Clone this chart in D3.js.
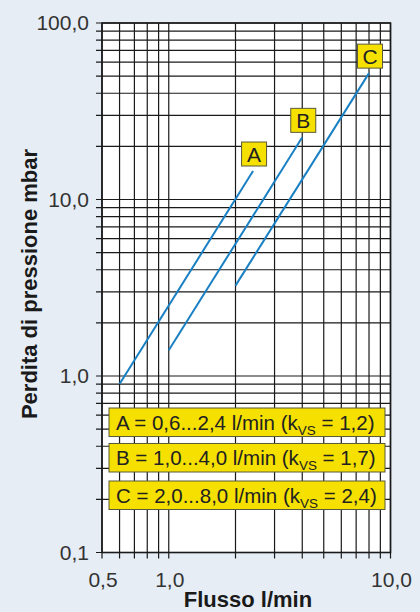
<!DOCTYPE html>
<html>
<head>
<meta charset="utf-8">
<script src="https://cdn.jsdelivr.net/npm/d3@7"></script>
<style>
  html, body { margin: 0; padding: 0; background: #e6edf5; }
  svg { display: block; font-family: "Liberation Sans", Arial, sans-serif; }
</style>
</head>
<body>
<svg width="420" height="612"></svg>
<script>
// curve data
const curveNames = ["A", "B", "C"];
const flowStart = [0.6, 1.0, 2.0];
const flowEnd = [2.4, 4.0, 8.0];
const dropStart = [0.9, 1.4, 3.25];
const dropEnd = [14.5, 22.5, 52];
const legendLabels = ["A = 0,6...2,4 l/min (k", "B = 1,0...4,0 l/min (k", "C = 2,0...8,0 l/min (k"];
const kvsValues = ["1,2", "1,7", "2,4"];

const xTickValues = [0.5, 1, 10];
const xTickLabels = ["0,5", "1,0", "10,0"];
const yTickValues = [0.1, 1, 10, 100];
const yTickLabels = ["0,1", "1,0", "10,0", "100,0"];

let svg = d3.select("svg"),
    margin = {top: 23, right: 30, bottom: 60, left: 102},
    width = +svg.attr("width") - margin.left - margin.right,
    height = +svg.attr("height") - margin.top - margin.bottom;

let x = d3.scaleLog().domain([0.5, 10]).range([0, width + 0.5]),
    y = d3.scaleLog().domain([0.1, 100]).range([height + 0.5, 0]);

let g = svg.append("g")
    .attr("transform", "translate(" + margin.left + "," + margin.top + ")");

// plot background
g.append("rect")
    .attr("width", x(10)).attr("height", y(0.1))
    .attr("fill", "#fff");

// grid values: 1..9 per decade
let xGrid = [0.5, 0.6, 0.7, 0.8, 0.9].concat(d3.range(1, 11));
let yGrid = [];
[0.1, 1, 10].forEach(function(d) { d3.range(1, 10).forEach(function(k) { yGrid.push(+(d * k).toPrecision(3)); }); });
yGrid.push(100);

g.selectAll(".vgrid")
  .data(xGrid)
  .enter().append("line")
    .attr("class", "vgrid")
    .attr("x1", function(d) { return x(d); })
    .attr("x2", function(d) { return x(d); })
    .attr("y1", 0)
    .attr("y2", y(0.1) + 6)
    .attr("stroke", "#1a1a1a")
    .attr("stroke-width", 1.2);

g.selectAll(".hgrid")
  .data(yGrid)
  .enter().append("line")
    .attr("class", "hgrid")
    .attr("x1", -6)
    .attr("x2", x(10))
    .attr("y1", function(d) { return y(d); })
    .attr("y2", function(d) { return y(d); })
    .attr("stroke", "#1a1a1a")
    .attr("stroke-width", 1.2);

// frame
g.append("rect")
    .attr("width", x(10)).attr("height", y(0.1))
    .attr("fill", "none")
    .attr("stroke", "#1a1a1a")
    .attr("stroke-width", 1.6);

// tick labels
g.selectAll(".xlab")
  .data(xTickValues)
  .enter().append("text")
    .attr("x", function(d) { return x(d) + 1; })
    .attr("y", y(0.1) + 34)
    .attr("text-anchor", "middle")
    .attr("font-size", 21)
    .attr("fill", "#333")
    .text(function(d, i) { return xTickLabels[i]; });

g.selectAll(".ylab")
  .data(yTickValues)
  .enter().append("text")
    .attr("x", -13)
    .attr("y", function(d) { return y(d); })
    .attr("dy", "0.35em")
    .attr("text-anchor", "end")
    .attr("font-size", 21)
    .attr("fill", "#333")
    .text(function(d, i) { return yTickLabels[i]; });

// axis titles
svg.append("text")
    .attr("x", 248)
    .attr("y", 607)
    .attr("text-anchor", "middle")
    .attr("font-size", 22)
    .attr("font-weight", "bold")
    .attr("fill", "#1a1a1a")
    .text("Flusso l/min");

svg.append("text")
    .attr("transform", "translate(37,284) rotate(-90)")
    .attr("text-anchor", "middle")
    .attr("font-size", 22)
    .attr("font-weight", "bold")
    .attr("fill", "#1a1a1a")
    .text("Perdita di pressione mbar");

// curves
g.selectAll(".curve")
  .data(curveNames)
  .enter().append("line")
    .attr("class", "curve")
    .attr("x1", function(d, i) { return x(flowStart[i]); })
    .attr("y1", function(d, i) { return y(dropStart[i]); })
    .attr("x2", function(d, i) { return x(flowEnd[i]); })
    .attr("y2", function(d, i) { return y(dropEnd[i]); })
    .attr("stroke", "#1a80c4")
    .attr("stroke-width", 2);

// curve name boxes
let tag = g.selectAll(".tag")
  .data(curveNames)
  .enter().append("g")
    .attr("class", "tag")
    .attr("transform", function(d, i) { return "translate(" + (x(flowEnd[i]) + 1) + "," + (y(dropEnd[i]) - 17) + ")"; });

tag.append("rect")
    .attr("x", -12.5).attr("y", -12)
    .attr("width", 25).attr("height", 24)
    .attr("fill", "#f5e000")
    .attr("stroke", "#5a5a3a")
    .attr("stroke-width", 1);

tag.append("text")
    .attr("text-anchor", "middle")
    .attr("dy", "0.36em")
    .attr("font-size", 21)
    .attr("fill", "#222")
    .text(function(d) { return d; });

// legend boxes
let legendTop = [408, 443.5, 481];
let leg = svg.selectAll(".leg")
  .data(legendLabels)
  .enter().append("g")
    .attr("class", "leg")
    .attr("transform", function(d, i) { return "translate(109," + legendTop[i] + ")"; });

leg.append("rect")
    .attr("width", 276).attr("height", 28.5)
    .attr("fill", "#f5e000")
    .attr("stroke", "#5a5a3a")
    .attr("stroke-width", 1);

let lt = leg.append("text")
    .attr("x", 7)
    .attr("y", 21.5)
    .attr("font-size", 20.5)
    .attr("fill", "#222");
lt.append("tspan").text(function(d) { return d; });
lt.append("tspan").attr("dy", 5).attr("font-size", 13.5).text("VS");
lt.append("tspan").attr("dy", -5).text(function(d, i) { return " = " + kvsValues[i] + ")"; });
</script>
</body>
</html>
